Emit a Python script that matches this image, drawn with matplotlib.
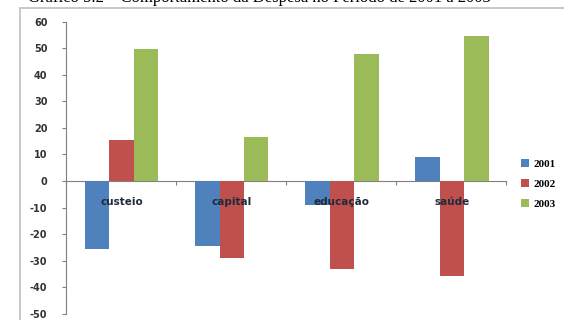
import numpy as np
import matplotlib.pyplot as plt
from matplotlib.patches import Rectangle

plt.rcParams["axes.unicode_minus"] = False

# Data
categorias = ["custeio", "capital", "educação", "saúde"]
anos = ["2001", "2002", "2003"]
v2001 = [-25.4, -24.5, -8.9, 9.0]
v2002 = [15.5, -28.9, -33.2, -35.8]
v2003 = [49.6, 16.7, 47.7, 54.4]
cores = ["#4F81BD", "#C0504D", "#9BBB59"]

fig = plt.figure(figsize=(5.64, 3.2), dpi=100)

# outer frame (cut off at right/bottom)
fig.patches.append(Rectangle((20 / 564, -0.1), 1.0, (320 - 8) / 320 + 0.1,
                             transform=fig.transFigure, fill=False,
                             edgecolor="#bfbfbf", linewidth=1.2))

# partially cut title, as in the source image
fig.text(28 / 564, (320 - 6) / 320,
         "Gráfico 5.2 – Comportamento da Despesa no Período de 2001 a 2003",
         fontsize=12, family="Liberation Serif", va="bottom", ha="left")

# y: -50 at 314 px, 60 at 21.5 px
ax = fig.add_axes([65.5 / 564, (320 - 314) / 320, 440.5 / 564, 292.5 / 320])

x = np.arange(len(categorias))
w = 0.222
for i, (serie, cor) in enumerate(zip([v2001, v2002, v2003], cores)):
    ax.bar(x + (i - 1) * w + 0.01, serie, width=w, color=cor, label=anos[i], zorder=2)

ax.set_xlim(-0.5, len(categorias) - 0.5)
ax.set_ylim(-50, 60)
ax.set_yticks(range(-50, 61, 10))
ax.tick_params(axis="y", labelsize=7, length=3, color="#808080", pad=10)
for lb in ax.get_yticklabels():
    lb.set_family("DejaVu Sans")
    lb.set_fontweight("bold")
    lb.set_color("#333333")

ax.spines["top"].set_visible(False)
ax.spines["right"].set_visible(False)
ax.spines["left"].set_color("#808080")
ax.spines["bottom"].set_position(("data", 0))
ax.spines["bottom"].set_color("#808080")
ax.spines["bottom"].set_zorder(1)
ax.set_xticks(np.arange(-0.5, len(categorias), 1.0))
ax.set_xticklabels([])
ax.tick_params(axis="x", length=3, color="#808080")

for xi, nome in zip(x, categorias):
    ax.text(xi + 0.01, -8, nome, ha="center", va="center", fontsize=7.5,
            fontweight="bold", color="#1f2a3a", zorder=5)

leg = fig.legend(loc="center left", bbox_to_anchor=(511 / 564, (320 - 184) / 320),
                 frameon=False, handlelength=0.7, handleheight=0.7,
                 handletextpad=0.4, labelspacing=0.9,
                 prop={"family": "Liberation Serif", "weight": "bold", "size": 8})

fig.savefig("out.png", dpi=100)
